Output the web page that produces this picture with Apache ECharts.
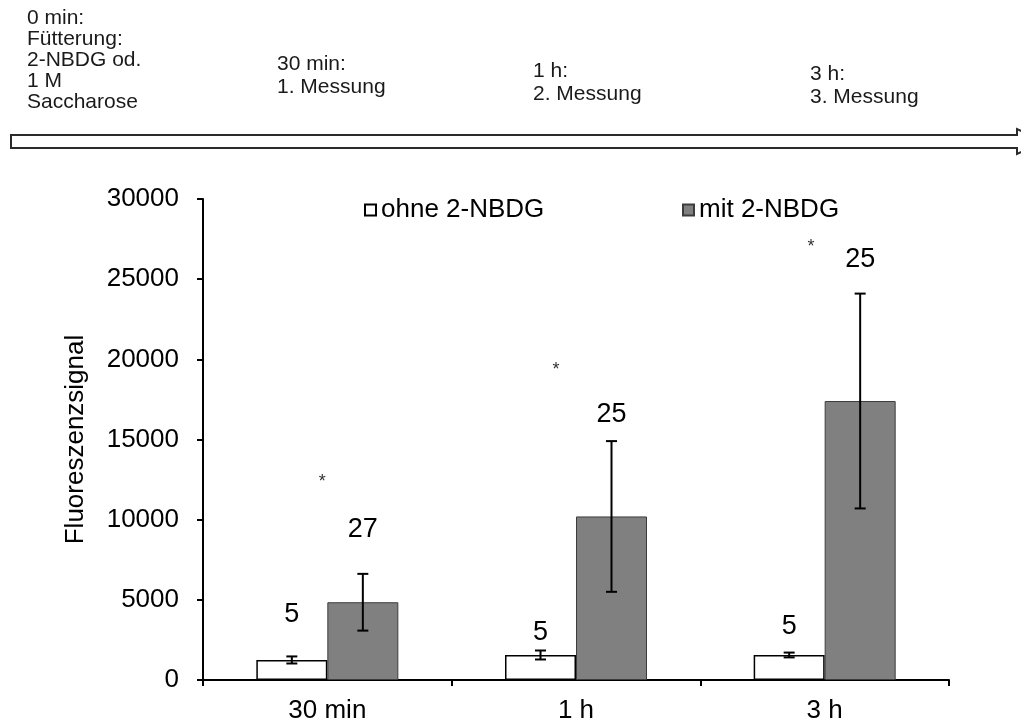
<!DOCTYPE html>
<html>
<head>
<meta charset="utf-8">
<script src="https://cdn.jsdelivr.net/npm/echarts@6/dist/echarts.min.js"></script>
<style>
  html, body { margin: 0; padding: 0; background: #fff; }
  #chart { width: 1021px; height: 725px; }
</style>
</head>
<body>
<div id="chart"></div>
<script>
// Zeitpunkte der Messung
const categories = ['30 min', '1 h', '3 h'];

// Mittelwerte und Standardabweichungen des Fluoreszenzsignals
const ohneMean = [1250, 1560, 1560];
const ohneErr  = [220, 280, 150];
const mitMean  = [4850, 10200, 17400];
const mitErr   = [1770, 4700, 6700];

// Stichprobenumfang je Gruppe und Höhe der Beschriftung (Signalwert)
const ohneN = [5, 5, 5];
const mitN  = [27, 25, 25];
const ohneNLevel = [4180, 3060, 3430];
const mitNLevel  = [9480, 16650, 26320];

// Signifikanzsterne: Position [Kategorie, Signalwert]
const starX = [-0.02, 0.92, 1.945];
const starY = [12600, 19580, 27260];

// Achsenbeschriftung
const yTicks = [0, 5000, 10000, 15000, 20000, 25000, 30000];

// Zeitstrahl oben
const timeline = [
  { lines: ['0 min:', 'Fütterung:', '2-NBDG od.', '1 M', 'Saccharose'], x: 27, y: 8, lh: 21 },
  { lines: ['30 min:', '1. Messung'], x: 277, y: 53, lh: 23 },
  { lines: ['1 h:', '2. Messung'], x: 533, y: 60, lh: 23 },
  { lines: ['3 h:', '3. Messung'], x: 810, y: 63, lh: 23 }
];

const FONT = '"Liberation Sans", Arial, sans-serif';
const BAR_W = 71;
const GRAY = '#808080';

const chart = echarts.init(document.getElementById('chart'), null, { renderer: 'canvas' });

function errorBarItem(sign) {
  return function (params, api) {
    const cat = api.value(0), m = api.value(1), e = api.value(2);
    const hi = api.coord([cat, m + e]);
    const lo = api.coord([cat, m - e]);
    const x = hi[0] + sign * BAR_W / 2;
    const cap = 5.5;
    const st = { stroke: '#000', lineWidth: 2 };
    return {
      type: 'group',
      children: [
        { type: 'line', shape: { x1: x, y1: hi[1], x2: x, y2: lo[1] }, style: st },
        { type: 'line', shape: { x1: x - cap, y1: hi[1], x2: x + cap, y2: hi[1] }, style: st },
        { type: 'line', shape: { x1: x - cap, y1: lo[1], x2: x + cap, y2: lo[1] }, style: st }
      ]
    };
  };
}

function nLabelItem(sign) {
  return function (params, api) {
    const p = api.coord([api.value(0), api.value(1)]);
    return {
      type: 'text',
      x: p[0] + sign * BAR_W / 2,
      y: p[1] + 2,
      style: {
        text: String(api.value(2)),
        fontFamily: FONT, fontSize: 27, fill: '#000',
        align: 'center', verticalAlign: 'middle'
      }
    };
  };
}

const graphics = [];
timeline.forEach(b => {
  graphics.push({
    type: 'text', x: b.x, y: b.y,
    style: {
      text: b.lines.join('\n'), fontFamily: FONT, fontSize: 21,
      lineHeight: b.lh, fill: '#1a1a1a', align: 'left', verticalAlign: 'top'
    }
  });
});
// Pfeil des Zeitstrahls
graphics.push({
  type: 'polygon',
  shape: { points: [[11, 135], [1017, 135], [1017, 129], [1045, 141.5], [1017, 154], [1017, 148], [11, 148]] },
  style: { fill: '#fff', stroke: '#2b2b2b', lineWidth: 2 }
});

const legendText = { fontFamily: FONT, fontSize: 26, color: '#000', lineHeight: 26 };

const option = {
  animation: false,
  backgroundColor: '#fff',
  textStyle: { fontFamily: FONT },
  grid: { left: 203, right: 72, top: 199, bottom: 45, containLabel: false },
  legend: [
    {
      data: ['ohne 2-NBDG'], left: 364, top: 197, padding: 0, icon: 'rect',
      itemWidth: 11, itemHeight: 11, textStyle: legendText
    },
    {
      data: ['mit 2-NBDG'], left: 682, top: 197, padding: 0, icon: 'rect',
      itemWidth: 11, itemHeight: 11, textStyle: legendText
    }
  ],
  xAxis: [
    {
      type: 'category', data: categories,
      axisLine: { lineStyle: { color: '#000', width: 2 } },
      axisTick: { show: true, length: 6, lineStyle: { color: '#000', width: 2 } },
      axisLabel: { fontFamily: FONT, fontSize: 26, color: '#000', margin: 18 },
      splitLine: { show: false }
    },
    { type: 'value', min: -0.5, max: 2.5, show: false, position: 'top' }
  ],
  yAxis: {
    type: 'value', min: yTicks[0], max: yTicks[yTicks.length - 1], interval: yTicks[1] - yTicks[0],
    name: 'Fluoreszenzsignal', nameLocation: 'middle', nameGap: 114,
    nameTextStyle: { fontFamily: FONT, fontSize: 26, color: '#000' },
    axisLine: { show: true, onZero: false, lineStyle: { color: '#000', width: 2 } },
    axisTick: { show: true, length: 6, lineStyle: { color: '#000', width: 2 } },
    axisLabel: {
      fontFamily: FONT, fontSize: 26, color: '#000', margin: 24,
      formatter: v => String(v)
    },
    splitLine: { show: false }
  },
  graphic: graphics,
  series: [
    {
      name: 'ohne 2-NBDG', type: 'bar', data: ohneMean,
      barWidth: BAR_W, barGap: '0%',
      itemStyle: { color: '#fff', borderColor: '#000', borderWidth: 1.5 }
    },
    {
      name: 'mit 2-NBDG', type: 'bar', data: mitMean,
      barWidth: BAR_W, barGap: '0%',
      itemStyle: { color: GRAY, borderColor: '#3c3c3c', borderWidth: 1 }
    },
    {
      type: 'custom', renderItem: errorBarItem(-1), z: 5,
      data: categories.map((c, i) => [i, ohneMean[i], ohneErr[i]])
    },
    {
      type: 'custom', renderItem: errorBarItem(1), z: 5,
      data: categories.map((c, i) => [i, mitMean[i], mitErr[i]])
    },
    {
      type: 'custom', renderItem: nLabelItem(-1), z: 6,
      data: categories.map((c, i) => [i, ohneNLevel[i], ohneN[i]])
    },
    {
      type: 'custom', renderItem: nLabelItem(1), z: 6,
      data: categories.map((c, i) => [i, mitNLevel[i], mitN[i]])
    },
    {
      type: 'custom', xAxisIndex: 1, z: 6,
      renderItem: function (params, api) {
        const p = api.coord([api.value(0), api.value(1)]);
        return {
          type: 'text', x: p[0], y: p[1] + 4,
          style: { text: '*', fontFamily: FONT, fontSize: 18, fill: '#333', align: 'center', verticalAlign: 'middle' }
        };
      },
      data: starX.map((x, i) => [x, starY[i]])
    }
  ]
};

chart.setOption(option);
</script>
</body>
</html>
